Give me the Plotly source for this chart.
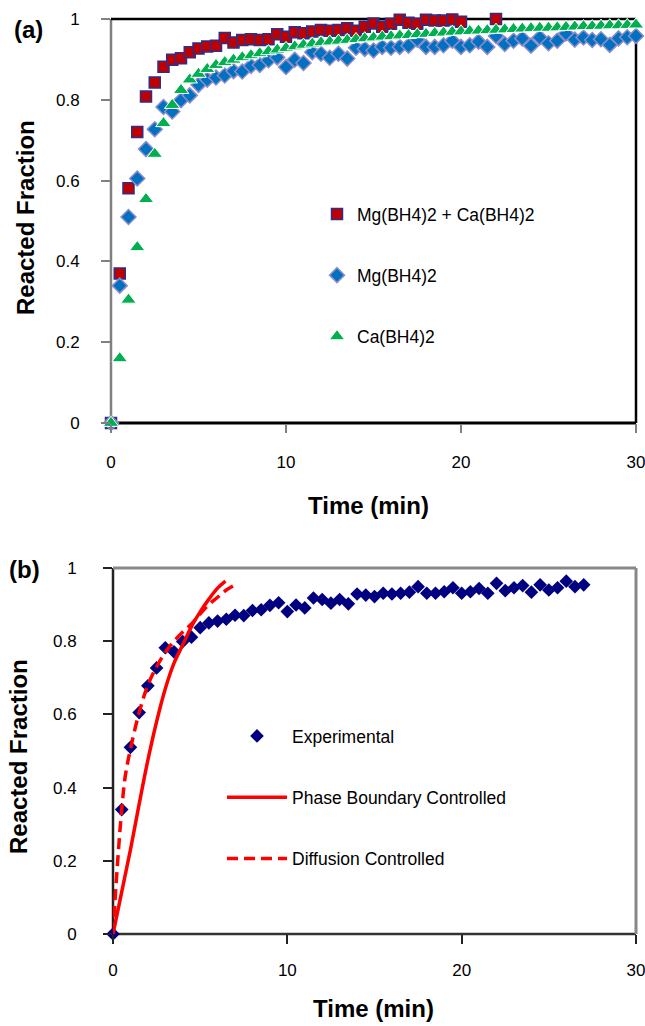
import plotly.graph_objects as go

# ---------------- data ----------------
# Panel (a)
t_mix = [0, 0.5, 1, 1.5, 2, 2.5, 3, 3.5, 4, 4.5, 5, 5.5, 6, 6.5, 7, 7.5, 8, 8.5, 9, 9.5,
         10, 10.5, 11, 11.5, 12, 12.5, 13, 13.5, 14, 14.5, 15, 15.5, 16, 16.5, 17, 17.5,
         18, 18.5, 19, 19.5, 20, 22]
mix_frac = [0, 0.37, 0.581, 0.72, 0.808, 0.843, 0.882, 0.899, 0.903, 0.918, 0.927, 0.932,
            0.934, 0.953, 0.942, 0.948, 0.950, 0.948, 0.950, 0.962, 0.956, 0.967, 0.965,
            0.969, 0.973, 0.971, 0.973, 0.977, 0.971, 0.981, 0.989, 0.981, 0.988, 0.998,
            0.991, 0.988, 0.998, 0.996, 0.996, 0.999, 0.993, 1.0]

t_a = [0, 0.5, 1, 1.5, 2, 2.5, 3, 3.5, 4, 4.5, 5, 5.5, 6, 6.5, 7, 7.5, 8, 8.5, 9, 9.5,
       10, 10.5, 11, 11.5, 12, 12.5, 13, 13.5, 14, 14.5, 15, 15.5, 16, 16.5, 17, 17.5,
       18, 18.5, 19, 19.5, 20, 20.5, 21, 21.5, 22, 22.5, 23, 23.5, 24, 24.5, 25, 25.5,
       26, 26.5, 27, 27.5, 28, 28.5, 29, 29.5, 30]
mg_frac = [0, 0.34, 0.51, 0.605, 0.678, 0.727, 0.782, 0.771, 0.799, 0.811, 0.837, 0.850,
           0.855, 0.860, 0.871, 0.870, 0.884, 0.886, 0.898, 0.905, 0.881, 0.899, 0.891,
           0.918, 0.914, 0.904, 0.914, 0.902, 0.929, 0.926, 0.922, 0.931, 0.929, 0.931,
           0.934, 0.949, 0.931, 0.931, 0.935, 0.946, 0.931, 0.935, 0.944, 0.931, 0.958,
           0.938, 0.946, 0.952, 0.934, 0.954, 0.940, 0.946, 0.964, 0.949, 0.954, 0.948,
           0.950, 0.936, 0.952, 0.955, 0.958]
ca_frac = [0, 0.16, 0.305, 0.435, 0.554, 0.666, 0.742, 0.787, 0.824, 0.850, 0.864, 0.876,
           0.886, 0.893, 0.899, 0.905, 0.910, 0.915, 0.920, 0.924, 0.928, 0.932, 0.936,
           0.939, 0.942, 0.944, 0.946, 0.948, 0.950, 0.952, 0.954, 0.956, 0.957, 0.959,
           0.960, 0.962, 0.963, 0.965, 0.966, 0.968, 0.969, 0.970, 0.971, 0.972, 0.973,
           0.974, 0.975, 0.976, 0.977, 0.978, 0.978, 0.979, 0.980, 0.981, 0.982, 0.982,
           0.983, 0.984, 0.984, 0.985, 0.986]

# Panel (b)
t_b = [0, 0.5, 1, 1.5, 2, 2.5, 3, 3.5, 4, 4.5, 5, 5.5, 6, 6.5, 7, 7.5, 8, 8.5, 9, 9.5,
       10, 10.5, 11, 11.5, 12, 12.5, 13, 13.5, 14, 14.5, 15, 15.5, 16, 16.5, 17, 17.5,
       18, 18.5, 19, 19.5, 20, 20.5, 21, 21.5, 22, 22.5, 23, 23.5, 24, 24.5, 25, 25.5,
       26, 26.5, 27]
exp_frac = [0, 0.34, 0.51, 0.605, 0.678, 0.727, 0.782, 0.771, 0.799, 0.811, 0.837, 0.850,
            0.855, 0.860, 0.871, 0.870, 0.884, 0.886, 0.898, 0.905, 0.881, 0.899, 0.891,
            0.918, 0.914, 0.904, 0.914, 0.902, 0.929, 0.926, 0.922, 0.931, 0.929, 0.931,
            0.934, 0.949, 0.931, 0.931, 0.935, 0.946, 0.931, 0.935, 0.944, 0.931, 0.958,
            0.938, 0.946, 0.952, 0.934, 0.954, 0.940, 0.946, 0.964, 0.949, 0.954]

t_phase = [0, 0.5, 1, 1.5, 2, 2.5, 3, 3.5, 4, 4.5, 5, 5.5, 6, 6.45]
phase_frac = [0, 0.115, 0.23, 0.355, 0.475, 0.58, 0.67, 0.74, 0.79, 0.84, 0.88, 0.915,
              0.945, 0.964]

t_diff = [0, 0.1, 0.3, 0.5, 0.7, 1.0, 1.5, 2.0, 2.5, 3.0, 3.5, 4.0, 4.5, 5.0, 5.5, 6.0,
          6.5, 7.15]
diff_frac = [0, 0.08, 0.22, 0.34, 0.43, 0.505, 0.605, 0.68, 0.73, 0.77, 0.80, 0.825,
             0.847, 0.875, 0.90, 0.92, 0.94, 0.958]

x_ticks = [0, 10, 20, 30]
y_ticks = [0, 0.2, 0.4, 0.6, 0.8, 1]

# ---------------- layout helpers ----------------
W, H = 645, 1026
FONT = "Liberation Sans, Arial, sans-serif"


def fx(p):
    return p / W


def fy(p):
    return 1 - p / H


fig = go.Figure()

# Panel (a) traces
fig.add_trace(go.Scatter(
    x=t_mix, y=mix_frac, mode="markers", name="Mg(BH4)2 + Ca(BH4)2",
    marker=dict(symbol="square", size=11, color="#C00000",
                line=dict(color="#2E2E8A", width=1.5)),
    xaxis="x", yaxis="y", legend="legend", legendgroup="a1", cliponaxis=False))
fig.add_trace(go.Scatter(
    x=t_a, y=mg_frac, mode="markers", name="Mg(BH4)2",
    marker=dict(symbol="diamond", size=11.5, color="#0070C0",
                line=dict(color="#8C8CC8", width=1.5)),
    xaxis="x", yaxis="y", legend="legend", legendgroup="a2", cliponaxis=False))
fig.add_trace(go.Scatter(
    x=t_a, y=ca_frac, mode="markers", name="Ca(BH4)2",
    marker=dict(symbol="triangle-up", size=13.5, color="#00B050",
                line=dict(color="#FFFFFF", width=1)),
    xaxis="x", yaxis="y", legend="legend", legendgroup="a3", cliponaxis=False))

# Panel (b) traces
fig.add_trace(go.Scatter(
    x=t_b, y=exp_frac, mode="markers", name="Experimental",
    marker=dict(symbol="diamond", size=10.5, color="#000080", line=dict(width=0)),
    xaxis="x2", yaxis="y2", legend="legend2", legendgroup="b1", cliponaxis=False))
fig.add_trace(go.Scatter(
    x=t_phase, y=phase_frac, mode="lines", name="Phase Boundary Controlled",
    line=dict(color="#FF0000", width=3.5, shape="spline"),
    xaxis="x2", yaxis="y2", legend="legend2", legendgroup="b2", cliponaxis=False))
fig.add_trace(go.Scatter(
    x=t_diff, y=diff_frac, mode="lines", name="Diffusion Controlled",
    line=dict(color="#FF0000", width=3.5, dash="11px,6px", shape="spline"),
    xaxis="x2", yaxis="y2", legend="legend2", legendgroup="b3", cliponaxis=False))

tickfont = dict(family=FONT, size=17, color="#000000")

axis_common = dict(showgrid=False, zeroline=False, showline=False, ticks="outside",
                   ticklen=9, tickwidth=2, tickfont=tickfont, ticklabeloverflow="allow")

fig.update_layout(
    width=W, height=H, autosize=False,
    margin=dict(l=0, r=0, t=0, b=0, autoexpand=False),
    paper_bgcolor="white", plot_bgcolor="white",
    font=dict(family=FONT, color="#000000"),
    xaxis=dict(domain=[fx(111), fx(636)], anchor="y", range=[0, 30], tickvals=x_ticks,
               tickcolor="#808080", ticklabelstandoff=15, **axis_common),
    yaxis=dict(domain=[fy(423), fy(19)], anchor="x", range=[0, 1], tickvals=y_ticks,
               tickcolor="#808080", ticklabelstandoff=18, **axis_common),
    xaxis2=dict(domain=[fx(113), fx(636)], anchor="y2", range=[0, 30], tickvals=x_ticks,
                tickcolor="#222222", ticklabelstandoff=12, **axis_common),
    yaxis2=dict(domain=[fy(934), fy(568)], anchor="x2", range=[0, 1], tickvals=y_ticks,
                tickcolor="#222222", ticklabelstandoff=23, **axis_common),
    legend=dict(x=fx(317), y=fy(196), xanchor="left", yanchor="top",
                bgcolor="rgba(0,0,0,0)", font=dict(family=FONT, size=17.5),
                traceorder="grouped", tracegroupgap=35.5),
    legend2=dict(x=fx(222), y=fy(718), xanchor="left", yanchor="top",
                 bgcolor="rgba(0,0,0,0)", font=dict(family=FONT, size=17.5),
                 traceorder="grouped", tracegroupgap=35.5, itemwidth=60),
    showlegend=True,
)

# Frames
def frame(xr, yr, left, bottom, top, right):
    out = []
    for (x0, y0, x1, y1), (col, w) in [((0, 0, 0, 1), left), ((0, 0, 1, 0), bottom),
                                       ((0, 1, 1, 1), top), ((1, 0, 1, 1), right)]:
        out.append(dict(type="line", xref=xr, yref=yr, x0=x0, y0=y0, x1=x1, y1=y1,
                        line=dict(color=col, width=w), layer="below"))
    return out

shapes = frame("x domain", "y domain", ("#808080", 2.5), ("#000000", 3),
               ("#000000", 2.5), ("#000000", 2.5))
shapes += frame("x2 domain", "y2 domain", ("#222222", 2.5), ("#333333", 2.5),
                ("#888888", 3), ("#888888", 3))
fig.update_layout(shapes=shapes)

title_font = dict(family=FONT, size=24, color="#000000")
ann = [
    dict(text="<b>(a)</b>", x=fx(28), y=fy(29)),
    dict(text="<b>(b)</b>", x=fx(24), y=fy(569)),
    dict(text="<b>Time (min)</b>", x=fx(368), y=fy(505)),
    dict(text="<b>Time (min)</b>", x=fx(373), y=fy(1008)),
    dict(text="<b>Reacted Fraction</b>", x=fx(25), y=fy(218), textangle=-90),
    dict(text="<b>Reacted Fraction</b>", x=fx(18), y=fy(757), textangle=-90),
]
for a in ann:
    a.update(xref="paper", yref="paper", showarrow=False, font=title_font,
             xanchor="center", yanchor="middle")
fig.update_layout(annotations=ann)

fig.write_html(
    "out.html",
    config={"displayModeBar": False},
    post_script="document.body.style.margin='0';document.body.style.overflow='hidden';",
)
